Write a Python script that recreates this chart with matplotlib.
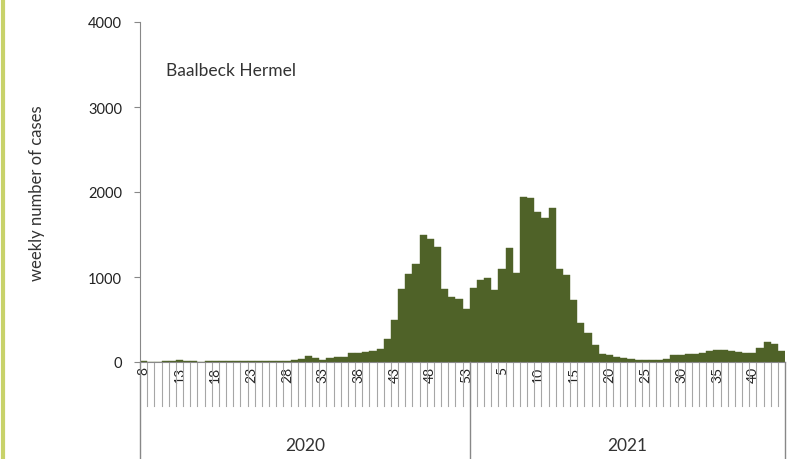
import matplotlib
matplotlib.use("Agg")
import matplotlib.pyplot as plt
from matplotlib.lines import Line2D
import matplotlib.transforms as mtransforms

plt.rcParams['font.family'] = ['Lato', 'DejaVu Sans']

# weekly cases, 2020 weeks 8-53 then 2021 weeks 1-44
weeks_2020 = list(range(8, 54))
cases_2020 = [15, 5, 5, 8, 10, 20, 15, 8, 5, 10, 12, 12, 10, 10, 8, 8,
              10, 12, 12, 15, 15, 20, 30, 75, 45, 25, 50, 55, 60, 105, 110, 115,
              130, 155, 270, 490, 860, 1035, 1150, 1500, 1450, 1350, 860, 760,
              740, 620]
weeks_2021 = list(range(1, 45))
cases_2021 = [870, 965, 990, 850, 1100, 1340, 1050, 1945, 1930, 1770, 1690,
              1810, 1100, 1025, 730, 460, 340, 200, 100, 80, 60, 50, 30, 25,
              20, 20, 25, 40, 80, 85, 95, 100, 110, 130, 140, 140, 130, 115,
              110, 110, 160, 230, 215, 130]
years = ['2020', '2021']
region = 'Baalbeck Hermel'

weeks = weeks_2020 + weeks_2021
cases = cases_2020 + cases_2021
n = len(cases)
x = list(range(n))

fig = plt.figure(figsize=(7.94, 4.6), dpi=100)
ax = fig.add_axes([140/794, 97/460, 645/794, 340/460])

ax.bar(x, cases, width=1.0, color='#4f6228', edgecolor='#4f6228', linewidth=0.3)

ax.set_xlim(-0.5, n - 0.5)
ax.set_ylim(0, 4000)
ax.set_yticks([0, 1000, 2000, 3000, 4000])
ax.tick_params(axis='y', labelsize=10.5, length=4, color='#888888', pad=9,
               labelcolor='#222222')

# week labels every 5 categories
lab_pos = [i for i in x if i % 5 == 0]
ax.set_xticks(lab_pos)
ax.set_xticklabels([str(weeks[i]) for i in lab_pos], rotation=90, fontsize=10,
                   va='top', ha='center', color='#222222')
ax.tick_params(axis='x', length=0, pad=3)

for s in ['top', 'right']:
    ax.spines[s].set_visible(False)
ax.spines['left'].set_color('#888888')
ax.spines['bottom'].set_color('#888888')

trans = mtransforms.blended_transform_factory(ax.transData, ax.transAxes)
# separators between categories
for i in range(1, n):
    ax.add_line(Line2D([i - 0.5, i - 0.5], [0, -0.13], transform=trans,
                       color='#a6a6a6', lw=0.8, clip_on=False))
# year separators
n20 = len(cases_2020)
for b in [-0.5, n20 - 0.5, n - 0.5]:
    ax.add_line(Line2D([b, b], [0, -0.29], transform=trans,
                       color='#888888', lw=1.0, clip_on=False))
ax.text((n20 - 1) / 2, -0.245, years[0], transform=trans, ha='center',
        va='center', fontsize=12.5, color='#333333')
ax.text(n20 + (n - n20 - 1) / 2, -0.245, years[1], transform=trans,
        ha='center', va='center', fontsize=12.5, color='#333333')

ax.set_ylabel('weekly number of cases', fontsize=12, color='#333333')
ax.yaxis.set_label_coords(-0.147, 0.5)
ax.text(0.04, 0.86, region, transform=ax.transAxes, fontsize=12.5,
        color='#333333', va='center')

# left page border
fig.add_artist(Line2D([3/794, 3/794], [0, 1], transform=fig.transFigure,
                      color='#c8d26a', lw=3))

fig.savefig('out.png', dpi=100)
